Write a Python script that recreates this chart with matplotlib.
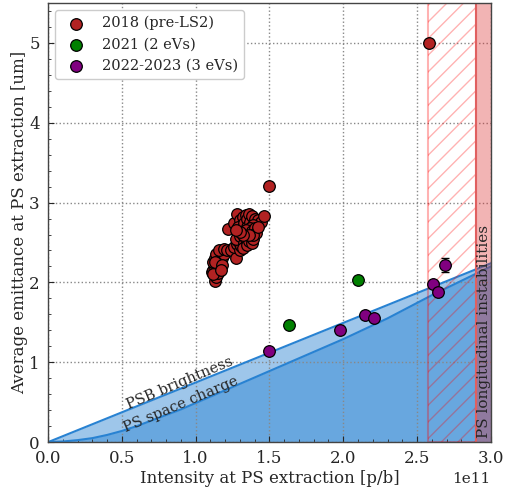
import numpy as np
import matplotlib
matplotlib.use('Agg')
import matplotlib.pyplot as plt
from matplotlib.ticker import AutoMinorLocator, MultipleLocator

plt.rcParams['font.family'] = 'DejaVu Serif'
plt.rcParams['text.color'] = '#262626'
plt.rcParams['axes.labelcolor'] = '#262626'
plt.rcParams['xtick.color'] = '#262626'
plt.rcParams['ytick.color'] = '#262626'

scale = 1e11  # intensities below are in units of 1e11 p/b

# 2018 (pre-LS2)
x_2018 = [1.13, 1.14, 1.11, 1.12, 1.13, 1.15, 1.16, 1.14, 1.12, 1.15, 1.13, 1.17,
          1.16, 1.18, 1.14, 1.17, 1.19, 1.16, 1.19, 1.21, 1.15, 1.13, 1.18, 1.12,
          1.17, 1.24, 1.27, 1.26, 1.28, 1.30, 1.29, 1.31, 1.27, 1.30, 1.33, 1.32,
          1.34, 1.35, 1.36, 1.38, 1.37, 1.39, 1.33, 1.22, 1.26, 1.28, 1.30, 1.29,
          1.31, 1.32, 1.33, 1.34, 1.35, 1.36, 1.35, 1.37, 1.38, 1.40, 1.42, 1.44,
          1.46, 1.39, 1.37, 1.36, 1.34, 1.38, 1.40, 1.41, 1.39, 1.36, 1.32, 1.30,
          1.42, 1.27, 1.50, 2.58]
y_2018 = [2.02, 2.07, 2.13, 2.16, 2.19, 2.12, 2.18, 2.23, 2.26, 2.28, 2.30, 2.25,
          2.33, 2.30, 2.35, 2.38, 2.36, 2.41, 2.42, 2.40, 2.20, 2.25, 2.22, 2.10,
          2.15, 2.41, 2.31, 2.44, 2.48, 2.40, 2.52, 2.46, 2.55, 2.58, 2.50, 2.43,
          2.55, 2.47, 2.52, 2.50, 2.58, 2.54, 2.62, 2.67, 2.74, 2.86, 2.78, 2.70,
          2.66, 2.82, 2.74, 2.85, 2.79, 2.86, 2.70, 2.76, 2.83, 2.80, 2.78, 2.76,
          2.83, 2.72, 2.68, 2.63, 2.66, 2.64, 2.68, 2.62, 2.60, 2.60, 2.60, 2.63,
          2.70, 2.66, 3.21, 5.00]

# 2021 (2 eVs)
x_2021 = [1.63, 2.10]
y_2021 = [1.47, 2.03]
err_2021 = [0.04, 0.05]

# 2022-2023 (3 eVs)
x_2022 = [1.50, 1.98, 2.15, 2.21, 2.61, 2.64, 2.69]
y_2022 = [1.14, 1.40, 1.59, 1.56, 1.98, 1.88, 2.22]
err_2022 = [0.02, 0.02, 0.02, 0.02, 0.02, 0.02, 0.09]

# limits
psb_x = [0.0, 3.0]
psb_y = [0.0, 2.24]
ps_sc_x = [0.0, 0.1, 0.2, 0.3, 0.4, 0.5, 0.6, 0.7, 0.8, 0.9, 1.0, 1.2, 1.5,
           1.7, 2.0, 2.3, 2.6, 2.9, 3.0]
ps_sc_y = [0.0, 0.008, 0.025, 0.05, 0.09, 0.14, 0.2, 0.27, 0.34, 0.41, 0.49, 0.65,
           0.89, 1.05, 1.29, 1.55, 1.84, 2.11, 2.2]
hatch_lo, hatch_hi = 2.576, 2.9
instab_lo, instab_hi = 2.9, 3.0

blue = '#2882d2'

fig, ax = plt.subplots(figsize=(5.06, 4.94), dpi=100)
fig.subplots_adjust(left=0.095, right=0.970, bottom=0.105, top=0.994)

psb_x = np.array(psb_x) * scale
ps_sc_x = np.array(ps_sc_x) * scale
ax.fill_between(psb_x, 0, psb_y, color=blue, alpha=0.45, lw=0, zorder=1)
ax.fill_between(ps_sc_x, 0, ps_sc_y, color=blue, alpha=0.45, lw=0, zorder=1)
ax.plot(psb_x, psb_y, color=blue, lw=1.5, zorder=2)
ax.plot(ps_sc_x, ps_sc_y, color=blue, lw=1.5, zorder=2)

# hatched region and instability band
ax.axvspan(hatch_lo * scale, hatch_hi * scale, facecolor='none', edgecolor='red',
           alpha=0.3, hatch='//', lw=1.5, zorder=2)
ax.axvspan(instab_lo * scale, instab_hi * scale, color='#dc2828', alpha=0.35, lw=0, zorder=2)
ax.axvline(instab_lo * scale, color='#e06060', lw=1.5, zorder=2)

ax.text(0.895 * scale, 0.74, 'PSB brightness', rotation=23, ha='center', va='center',
        fontsize=10.5)
ax.text(0.90 * scale, 0.47, 'PS space charge', rotation=23, ha='center', va='center',
        fontsize=10.5)
ax.text(2.955 * scale, 0.05, 'PS longitudinal instabilities', rotation=90,
        ha='center', va='bottom', fontsize=11)

ax.scatter(np.array(x_2018) * scale, y_2018, s=70, c='#b22222', edgecolors='k',
           linewidths=0.9, zorder=5, label='2018 (pre-LS2)')
ax.errorbar(np.array(x_2021) * scale, y_2021, yerr=err_2021, fmt='none', ecolor='k',
            capsize=3, lw=1, zorder=4)
ax.scatter(np.array(x_2021) * scale, y_2021, s=70, c='green', edgecolors='k',
           linewidths=0.9, zorder=5, label='2021 (2 eVs)')
ax.errorbar(np.array(x_2022) * scale, y_2022, yerr=err_2022, fmt='none', ecolor='k',
            capsize=3, lw=1, zorder=4)
ax.scatter(np.array(x_2022) * scale, y_2022, s=70, c='purple', edgecolors='k',
           linewidths=0.9, zorder=5, label='2022-2023 (3 eVs)')

ax.set_xlim(0, 3.0 * scale)
ax.set_ylim(0, 5.5)
ax.xaxis.set_major_locator(MultipleLocator(0.5 * scale))
ax.yaxis.set_major_locator(MultipleLocator(1))
ax.xaxis.set_minor_locator(AutoMinorLocator(5))
ax.yaxis.set_minor_locator(AutoMinorLocator(5))
ax.tick_params(which='both', direction='in', labelsize=12)
ax.tick_params(which='major', length=4)
ax.tick_params(which='minor', length=2.5)
ax.tick_params(axis='x', pad=6)
ax.tick_params(axis='y', pad=6)
ax.xaxis.get_offset_text().set_fontsize(11)
ax.grid(True, which='major', ls=':', color='#888888', lw=1)
for sp in ax.spines.values():
    sp.set_color('#444444')
    sp.set_linewidth(1)

ax.set_xlabel('Intensity at PS extraction [p/b]', fontsize=12, labelpad=2)
ax.set_ylabel('Average emittance at PS extraction [um]', fontsize=12, labelpad=1)
ax.legend(loc='upper left', fontsize=10.5, framealpha=1, edgecolor='#cccccc')

fig.savefig('out.png', dpi=100)
